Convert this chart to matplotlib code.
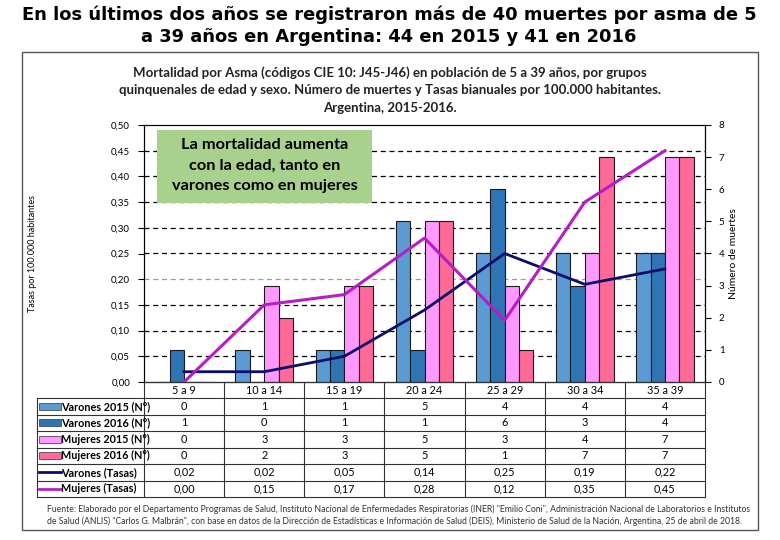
import numpy as np
import matplotlib
matplotlib.use('Agg')
import matplotlib.pyplot as plt
from matplotlib.patches import Rectangle

plt.rcParams['font.family'] = ['Lato', 'DejaVu Sans']

# Data
grupos = ['5 a 9', '10 a 14', '15 a 19', '20 a 24', '25 a 29', '30 a 34', '35 a 39']
varones_2015 = [0, 1, 1, 5, 4, 4, 4]
varones_2016 = [1, 0, 1, 1, 6, 3, 4]
mujeres_2015 = [0, 3, 3, 5, 3, 4, 7]
mujeres_2016 = [0, 2, 3, 5, 1, 7, 7]
varones_tasa = [0.02, 0.02, 0.05, 0.14, 0.25, 0.19, 0.22]
mujeres_tasa = [0.00, 0.15, 0.17, 0.28, 0.12, 0.35, 0.45]

bar_labels = ['Varones 2015 (N°)', 'Varones 2016 (N°)', 'Mujeres 2015 (N°)', 'Mujeres 2016 (N°)']
line_labels = ['Varones (Tasas)', 'Mujeres (Tasas)']
bar_colors = ['#5b9bd5', '#2e75b6', '#ff99ff', '#ff6a98']
line_colors = ['#0c0c6c', '#b41ec4']

W, H = 780, 540
fig = plt.figure(figsize=(W / 100, H / 100), dpi=100)

# overlay in pixel coordinates for frame, table and texts
ov = fig.add_axes([0, 0, 1, 1])
ov.set_xlim(0, W)
ov.set_ylim(H, 0)
ov.axis('off')

ov.text(389, 15, 'En los últimos dos años se registraron más de 40 muertes por asma de 5',
        ha='center', va='center', fontsize=12.9, fontweight='bold', family='DejaVu Sans')
ov.text(389, 37, 'a 39 años en Argentina: 44 en 2015 y 41 en 2016',
        ha='center', va='center', fontsize=12.9, fontweight='bold', family='DejaVu Sans')

ov.add_patch(Rectangle((22, 52), 736, 478, fill=False, edgecolor='#555555', lw=1))

titulo = ['Mortalidad por Asma (códigos CIE 10: J45-J46) en población de 5 a 39 años, por grupos',
          'quinquenales de edad y sexo. Número de muertes y Tasas bianuales por 100.000 habitantes.',
          'Argentina, 2015-2016.']
for i, t in enumerate(titulo):
    ov.text(390, 73 + i * 17.5, t, ha='center', va='center', fontsize=9.5, fontweight='bold', color='#222222')

# main chart
L, R, T, B = 144, 705, 125, 382
ax = fig.add_axes([L / W, 1 - B / H, (R - L) / W, (B - T) / H])
ax2 = ax.twinx()
ax.set_zorder(ax2.get_zorder() + 1)
ax.patch.set_visible(False)

n = len(grupos)
x = np.arange(n)
w = 0.18
for k, (vals, c) in enumerate(zip([varones_2015, varones_2016, mujeres_2015, mujeres_2016], bar_colors)):
    ax2.bar(x + (k - 1.5) * w, vals, w, color=c, edgecolor='#1a1a1a', linewidth=0.8, zorder=3)

rate_ticks = np.arange(0, 0.501, 0.05)
for t in rate_ticks[1:-1]:
    col = '#999999' if abs(t - 0.20) < 1e-9 else 'black'
    ax2.axhline(t * 16, color=col, ls=(0, (4, 3)), lw=0.9, zorder=1)

ax.plot(x, varones_tasa, color=line_colors[0], lw=2, zorder=5)
ax.plot(x, mujeres_tasa, color=line_colors[1], lw=2.2, zorder=5)

ax.set_xlim(-0.5, n - 0.5)
ax.set_ylim(0, 0.5)
ax2.set_ylim(0, 8)
ax.set_xticks([])
ax.set_yticks(rate_ticks)
ax.set_yticklabels([f'{t:.2f}'.replace('.', ',') for t in rate_ticks])
ax2.set_yticks(range(9))
ax.tick_params(axis='y', direction='out', length=4, labelsize=7, pad=6)
ax2.tick_params(axis='y', direction='out', length=4, labelsize=7, pad=6)
for a in (ax, ax2):
    for s in a.spines.values():
        s.set_linewidth(0.8)
ax.set_ylabel('Tasas por 100.000 habitantes', fontsize=6.5)
ax.yaxis.set_label_coords(-0.19, 0.5)
ax2.set_ylabel('Número de muertes', fontsize=7.5)
ax2.yaxis.set_label_coords(1.043, 0.5)

# green note
ov.add_patch(Rectangle((157, 130), 215, 73, facecolor='#a9d18e', edgecolor='none', zorder=10))
nota = ['La mortalidad aumenta', 'con la edad, tanto en', 'varones como en mujeres']
for i, t in enumerate(nota):
    ov.text(264.5, 145 + i * 20.5, t, ha='center', va='center', fontsize=11.8, fontweight='bold', zorder=11)
ov.set_zorder(ax.get_zorder() + 1)
ov.patch.set_visible(False)

# table under the chart
edges = np.linspace(L, R, n + 1)
centers = (edges[:-1] + edges[1:]) / 2
xl = 37
head_bot = 398
rh = 16.5
nrows = 6
rows = [varones_2015, varones_2016, mujeres_2015, mujeres_2016]
ybot = head_bot + nrows * rh
lc = '#333333'
ov.plot([L, R], [B, B], color=lc, lw=0.8)
for r in range(nrows + 1):
    ov.plot([xl, R], [head_bot + r * rh] * 2, color=lc, lw=0.8)
ov.plot([xl, xl], [head_bot, ybot], color=lc, lw=0.8)
for e in edges:
    ov.plot([e, e], [B, ybot], color=lc, lw=0.8)
for g, cx in zip(grupos, centers):
    ov.text(cx, (B + head_bot) / 2, g, ha='center', va='center', fontsize=7.8)
for r in range(nrows):
    cy = head_bot + (r + 0.5) * rh
    if r < 4:
        ov.add_patch(Rectangle((39, cy - 3.5), 22, 7, facecolor=bar_colors[r], edgecolor='#333333', lw=0.5))
        label = bar_labels[r]
        vals = [str(v) for v in rows[r]]
    else:
        ov.plot([39, 61], [cy, cy], color=line_colors[r - 4], lw=2)
        label = line_labels[r - 4]
        src = varones_tasa if r == 4 else mujeres_tasa
        vals = [f'{v:.2f}'.replace('.', ',') for v in src]
    ov.text(61, cy, label, ha='left', va='center', fontsize=7.8, fontweight='bold')
    for v, cx in zip(vals, centers):
        ov.text(cx, cy, v, ha='center', va='center', fontsize=7.8)

fuente = ['Fuente: Elaborado por el Departamento Programas de Salud, Instituto Nacional de Enfermedades Respiratorias (INER) "Emilio Coni", Administración Nacional de Laboratorios e Institutos',
          'de Salud (ANLIS) "Carlos G. Malbrán", con base en datos de la Dirección de Estadísticas e Información de Salud (DEIS), Ministerio de Salud de la Nación, Argentina, 25 de abril de 2018.']
for i, t in enumerate(fuente):
    ov.text(47, 509 + i * 12, t, ha='left', va='center', fontsize=6.2, color='#333333')

fig.savefig('out.png', dpi=100)
